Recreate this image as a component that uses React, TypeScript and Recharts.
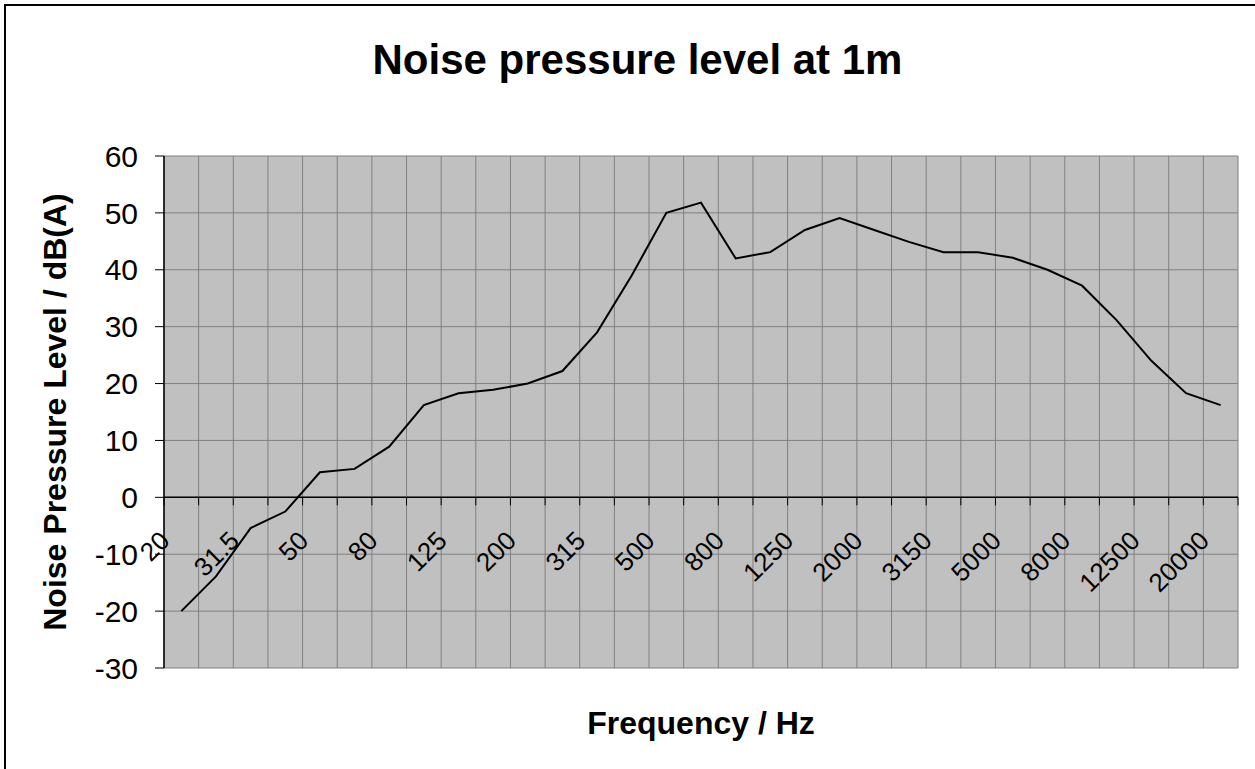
import React from "react";
import {
  LineChart,
  Line,
  XAxis,
  YAxis,
  CartesianGrid,
  ReferenceLine,
} from "recharts";

// 1/3 octave bands
const freqLabels = [
  "20", "25", "31.5", "40", "50", "63", "80", "100", "125", "160", "200",
  "250", "315", "400", "500", "630", "800", "1000", "1250", "1600", "2000",
  "2500", "3150", "4000", "5000", "6300", "8000", "10000", "12500", "16000", "20000",
];

const levels = [
  -20, -13.9, -5.4, -2.5, 4.4, 5.0, 8.9, 16.2, 18.3, 18.9, 20,
  22.2, 29, 39, 50, 51.8, 42, 43.1, 47, 49.1, 47,
  44.9, 43.1, 43.1, 42.1, 40, 37.2, 31.1, 24, 18.3, 16.2,
];

const yTicks = [-30, -20, -10, 0, 10, 20, 30, 40, 50, 60];

const data = freqLabels.map((f, i) => ({ i, freq: f, level: levels[i] }));
// category boundaries, used for grid lines and tick marks
const boundaries = [...freqLabels.map((_, i) => i - 0.5), freqLabels.length - 0.5];

const W = 1255;
const H = 769;
const MARGIN = { top: 156, right: 17, bottom: 0, left: 0 };
const Y_AXIS_W = 164;
const X_AXIS_H = 101;
const PLOT_W = W - MARGIN.right - MARGIN.left - Y_AXIS_W;
const PLOT_H = H - MARGIN.top - MARGIN.bottom - X_AXIS_H;
const Y_MIN = -30;
const Y_MAX = 60;
const HALF_STEP = PLOT_W / freqLabels.length / 2;
const FONT = "'Liberation Sans', Arial, sans-serif";

const XTick = (props: any) => {
  const { x, y, payload } = props;
  // Excel draws the category axis where y = 0
  const zeroY = y - (PLOT_H * (0 - Y_MIN)) / (Y_MAX - Y_MIN);
  const k = Math.round(payload.value + 0.5);
  const showLabel = k % 2 === 0 && k < freqLabels.length;
  const lx = x + HALF_STEP - 10;
  const ly = zeroY + 45;
  return (
    <g>
      <line x1={x} y1={zeroY} x2={x} y2={zeroY + 8} stroke="#000" strokeWidth={1} />
      {showLabel && (
        <text
          x={lx}
          y={ly}
          transform={`rotate(-45 ${lx} ${ly})`}
          textAnchor="end"
          fontSize={26}
          fontFamily={FONT}
          fill="#000"
        >
          {freqLabels[k]}
        </text>
      )}
    </g>
  );
};

export default function App() {
  return (
    <div
      style={{
        position: "absolute",
        left: 0,
        top: 0,
        width: W,
        height: H,
        overflow: "hidden",
        background: "#fff",
      }}
    >
      <div
        style={{
          position: "absolute",
          left: 4,
          top: 4,
          width: 1320,
          height: 900,
          border: "2px solid #000",
        }}
      />
      <LineChart
        width={W}
        height={H}
        data={data}
        margin={MARGIN}
        style={{ position: "absolute", left: 0, top: 0 }}
      >
        <CartesianGrid stroke="#808080" strokeWidth={1} fill="#c0c0c0" fillOpacity={1} />
        <XAxis
          dataKey="i"
          type="number"
          domain={[-0.5, freqLabels.length - 0.5]}
          ticks={boundaries}
          interval={0}
          height={X_AXIS_H}
          axisLine={false}
          tickLine={false}
          tickSize={0}
          tickMargin={0}
          tick={<XTick />}
        />
        <YAxis
          domain={[Y_MIN, Y_MAX]}
          ticks={yTicks}
          interval={0}
          width={Y_AXIS_W}
          axisLine={{ stroke: "#000", strokeWidth: 1.5 }}
          tickLine={{ stroke: "#000" }}
          tickSize={9}
          tickMargin={17}
          tick={{ fontSize: 30, fill: "#000", fontFamily: FONT }}
        />
        <ReferenceLine y={0} stroke="#000" strokeWidth={1.5} />
        <Line
          type="linear"
          dataKey="level"
          stroke="#000"
          strokeWidth={2}
          dot={false}
          isAnimationActive={false}
        />
      </LineChart>
      <svg
        width={W}
        height={H}
        style={{ position: "absolute", left: 0, top: 0, pointerEvents: "none" }}
      >
        <text x={637.5} y={74} textAnchor="middle" fontSize={42} fontWeight="bold" fontFamily={FONT}>
          Noise pressure level at 1m
        </text>
        <text x={701} y={734} textAnchor="middle" fontSize={32} fontWeight="bold" fontFamily={FONT}>
          Frequency / Hz
        </text>
        <text
          x={66}
          y={412}
          transform="rotate(-90 66 412)"
          textAnchor="middle"
          fontSize={32}
          fontWeight="bold"
          fontFamily={FONT}
        >
          Noise Pressure Level / dB(A)
        </text>
      </svg>
    </div>
  );
}
